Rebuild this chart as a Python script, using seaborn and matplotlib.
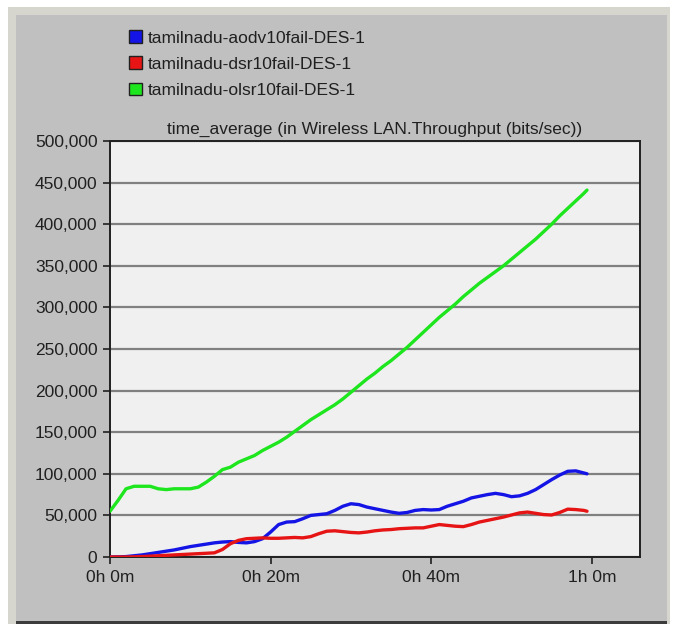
import numpy as np
import pandas as pd
import seaborn as sns
import matplotlib
matplotlib.use("Agg")
import matplotlib.pyplot as plt
from matplotlib.patches import Rectangle, Patch
from matplotlib.ticker import FuncFormatter

# simulation time (minutes) and time-averaged WLAN throughput (bits/sec)
time_min = [0, 1, 2, 3, 4, 5, 6, 7, 8, 9, 10, 11, 12, 13, 14, 15, 16, 17, 18, 19,
            20, 21, 22, 23, 24, 25, 26, 27, 28, 29, 30, 31, 32, 33, 34, 35, 36, 37, 38, 39,
            40, 41, 42, 43, 44, 45, 46, 47, 48, 49, 50, 51, 52, 53, 54, 55, 56, 57, 58, 59, 59.4]

aodv = [0, 200, 500, 1500, 2500, 4000, 5500, 7000, 8500, 10500, 12500, 14000, 15500, 17000, 18000, 18500, 17500, 17000, 18500, 22000,
        30000, 39000, 42000, 42500, 46000, 50000, 51000, 52000, 56000, 61000, 64000, 63000, 60000, 58000, 56000, 54000, 52500, 53500, 56000, 57000,
        56500, 57000, 61000, 64000, 67000, 71000, 73000, 75000, 76500, 75000, 72500, 73500, 76500, 81000, 87000, 93000, 98500, 103000, 103500, 101000, 100000]

dsr = [0, 0, 0, 200, 500, 1000, 1500, 2000, 2500, 3000, 3500, 4000, 4500, 5000, 9000, 16000, 20000, 22000, 22500, 23000,
       22500, 22500, 23000, 23500, 23000, 24500, 28000, 31000, 31500, 30500, 29500, 29000, 30000, 31500, 32500, 33000, 34000, 34500, 35000, 35000,
       37000, 39000, 38000, 37000, 36500, 39000, 42000, 44000, 46000, 48000, 50500, 53000, 54000, 52500, 51000, 50500, 53500, 57500, 57000, 56000, 55000]

olsr = [55000, 68000, 82000, 85000, 85000, 85000, 82000, 81000, 82000, 82000, 82000, 84000, 90000, 97000, 105000, 108000, 114000, 118000, 122000, 128000,
        133000, 138000, 144000, 151000, 158000, 165000, 171000, 177000, 183000, 190000, 198000, 206000, 214000, 221000, 229000, 236000, 244000, 252000, 261000, 270000,
        279000, 288000, 296000, 304000, 313000, 321000, 329000, 336000, 343000, 350000, 358000, 366000, 374000, 382000, 391000, 400000, 410000, 419000, 428000, 437000, 441000]

series_names = ["tamilnadu-aodv10fail-DES-1", "tamilnadu-dsr10fail-DES-1", "tamilnadu-olsr10fail-DES-1"]
series_colors = ["#1414e6", "#e61414", "#1ee61e"]
x_ticks = [0, 20, 40, 60]
x_tick_labels = ["0h 0m", "0h 20m", "0h 40m", "1h 0m"]
y_ticks = [0, 50000, 100000, 150000, 200000, 250000, 300000, 350000, 400000, 450000, 500000]
title = "time_average (in Wireless LAN.Throughput (bits/sec))"

df = pd.concat([
    pd.DataFrame({"time": time_min, "throughput": vals, "run": name})
    for name, vals in zip(series_names, [aodv, dsr, olsr])
])

sns.set_theme(style="white")
plt.rcParams["font.family"] = ["Liberation Sans", "DejaVu Sans"]

W, H = 682, 625
fig = plt.figure(figsize=(W / 100, H / 100), dpi=100, facecolor="white")


def fx(px):
    return px / W


def fy(py):
    return 1 - py / H


# window frame: light bevel, grey panel, dark bottom edge
fig.add_artist(Rectangle((fx(8), fy(624)), fx(662) - fx(0), fy(7) - fy(624),
                         transform=fig.transFigure, facecolor="#d6d6ce", edgecolor="none", zorder=0))
fig.add_artist(Rectangle((fx(16), fy(621)), fx(651) - fx(0), fy(15) - fy(621),
                         transform=fig.transFigure, facecolor="#c0c0c0", edgecolor="none", zorder=0))
fig.add_artist(Rectangle((fx(16), fy(624)), fx(651) - fx(0), fy(621) - fy(624),
                         transform=fig.transFigure, facecolor="#3c3c3c", edgecolor="none", zorder=0))

ax = fig.add_axes([fx(110), fy(557), fx(640) - fx(110), fy(141) - fy(557)])
ax.set_facecolor("#f0f0f0")

sns.lineplot(data=df, x="time", y="throughput", hue="run", hue_order=series_names,
             palette=series_colors, linewidth=2.4, ax=ax, legend=False, zorder=3)

ax.set_xlim(0, 66)
ax.set_ylim(0, 500000)
ax.set_xticks(x_ticks)
ax.set_xticklabels(x_tick_labels)
ax.set_yticks(y_ticks)
ax.yaxis.set_major_formatter(FuncFormatter(lambda v, p: f"{int(v):,}"))
ax.yaxis.grid(True, color="#808080", linewidth=1.6, zorder=1)
ax.xaxis.grid(False)
ax.set_axisbelow(True)
ax.set_xlabel("")
ax.set_ylabel("")
for side in ["left", "bottom", "top", "right"]:
    ax.spines[side].set_visible(True)
    ax.spines[side].set_color("#202020")
    ax.spines[side].set_linewidth(1.4)
ax.tick_params(axis="both", which="major", direction="out", length=5, width=1.2,
               color="#202020", labelsize=12.5, labelcolor="#202020", pad=4,
               left=True, bottom=True)

ax.set_title(title, fontsize=12.5, color="#202020", pad=5)

handles = [Patch(facecolor=c, edgecolor="#202020", linewidth=1.0) for c in series_colors]
fig.legend(handles, series_names, loc="upper left", bbox_to_anchor=(fx(126), fy(27)),
           frameon=False, fontsize=12.5, handlelength=0.72, handleheight=0.72,
           handletextpad=0.35, labelspacing=0.62, borderaxespad=0, borderpad=0.2,
           labelcolor="#202020")

fig.savefig("out.png", dpi=100, facecolor=fig.get_facecolor())
